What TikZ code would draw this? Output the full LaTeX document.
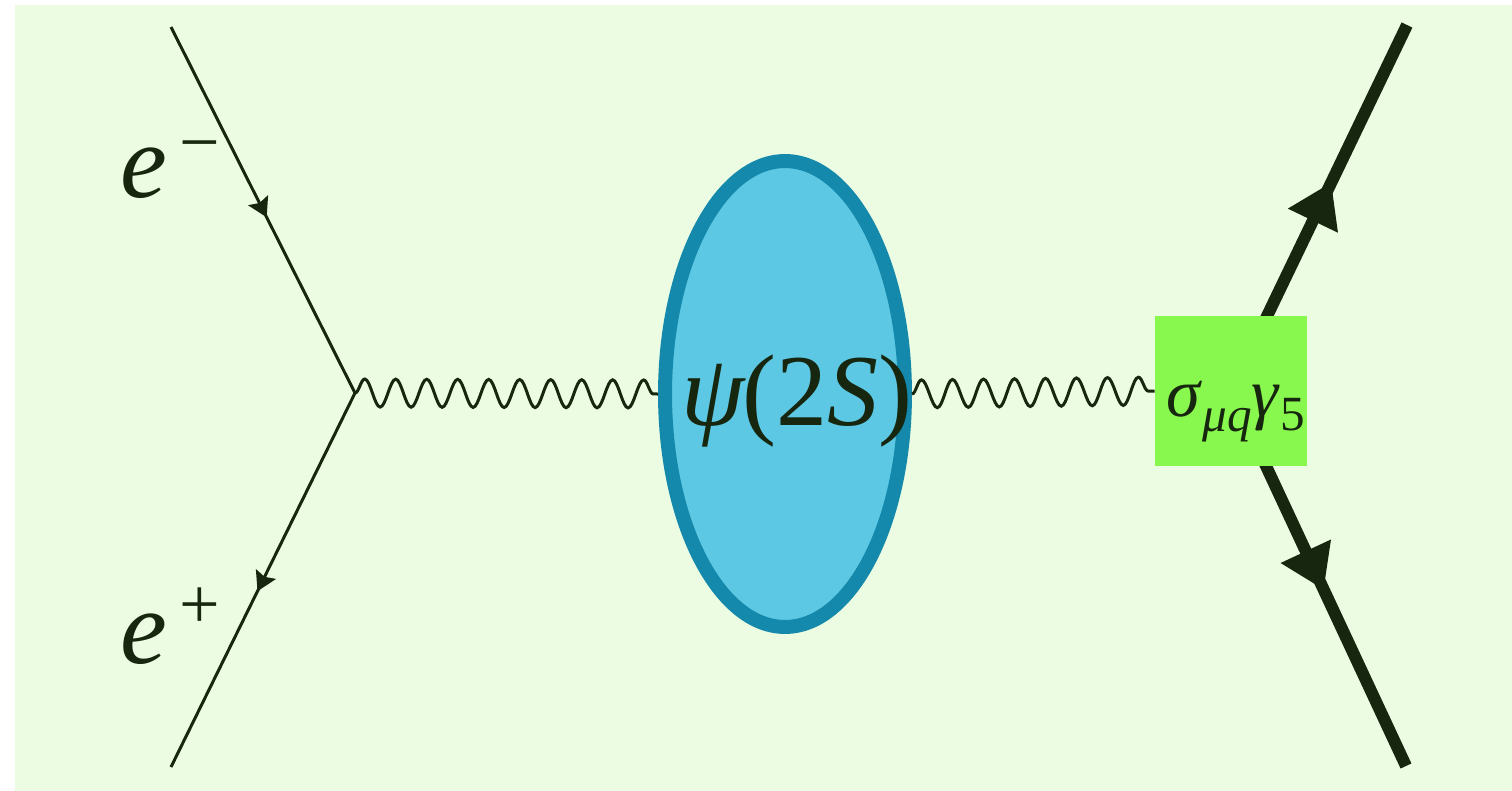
\documentclass[tikz,border=0pt]{standalone}
\usepackage{fontspec}
\setmainfont{Liberation Serif}
\usetikzlibrary{arrows.meta,decorations.pathmorphing,decorations.markings,shapes.geometric}
\definecolor{bg}{RGB}{235,252,227}
\definecolor{ink}{RGB}{23,38,14}
\definecolor{blobfill}{RGB}{92,200,228}
\definecolor{blobline}{RGB}{21,137,171}
\definecolor{boxfill}{RGB}{137,248,78}
\newcommand{\bigtxt}{\fontsize{60}{60}\selectfont}
\newcommand{\suptxt}{\fontsize{41}{41}\selectfont}
\begin{document}
\begin{tikzpicture}[
  x=0.02cm, y=-0.02cm,
  thinferm/.style={draw=ink, line width=0.06cm, postaction={decorate},
    decoration={markings, mark=at position #1 with {\arrow{Stealth[length=0.38cm,width=0.44cm,inset=0.06cm]}}}},
  thickferm/.style={draw=ink, line width=0.24cm, postaction={decorate},
    decoration={markings, mark=at position #1 with {\arrow{Triangle[length=0.85cm,width=1.05cm]}}}},
  photon/.style={draw=ink, line width=0.06cm, decorate,
    decoration={snake, amplitude=0.28cm, segment length=0.62cm}},
  blob/.style={ellipse, fill=blobfill, draw=blobline, line width=0.28cm,
    minimum width=4.8cm, minimum height=9.32cm, inner sep=0pt},
  vertexbox/.style={rectangle, fill=boxfill, minimum width=3.04cm, minimum height=3.0cm, inner sep=0pt},
  lbl/.style={text=ink, inner sep=0pt}
]
\useasboundingbox (0,0) rectangle (1512,791);
\fill[bg] (15,5) rectangle (1512,791);

% coordinates
\coordinate (A) at (171,27);
\coordinate (V) at (355,393);
\coordinate (B) at (171,767);
\coordinate (C) at (1407,25);
\coordinate (D) at (1406,766);
\coordinate (W) at (1231,391);

% left fermions
\path[thinferm=0.52] (A) -- (V);
\path[thinferm=0.53] (V) -- (B);

% right fermions
\path[thickferm=0.57] (W) -- (C);
\path[thickferm=0.53] (W) -- (D);

% blob and box
\node[blob] (psi) at (785,394) {};
\node[lbl] (psilabel) at (797,401) {\fontsize{58}{58}\selectfont\textit{ψ}\kern-0.04em(2\textit{S})};
\node[vertexbox] (sig) at (W) {};
\node[lbl, anchor=base west] (siglabel) at (1166,416) {\fontsize{39}{39}\selectfont\textit{σ}\raisebox{-0.3cm}{\fontsize{28}{28}\selectfont\textit{μq}}\textit{γ}\raisebox{-0.28cm}{\fontsize{28}{28}\selectfont 5}};

% photons
\path[photon] (V) -- (psi.west);
\path[photon] (psi.east) -- (sig.west);

% labels
\node[lbl, anchor=base west] (em) at (120,197) {\bigtxt\textit{e}\kern0.12em\raisebox{0.62cm}{\suptxt −}};
\node[lbl, anchor=base west] (ep) at (120,663) {\bigtxt\textit{e}\kern0.12em\raisebox{0.70cm}{\suptxt +}};
\end{tikzpicture}
\end{document}
